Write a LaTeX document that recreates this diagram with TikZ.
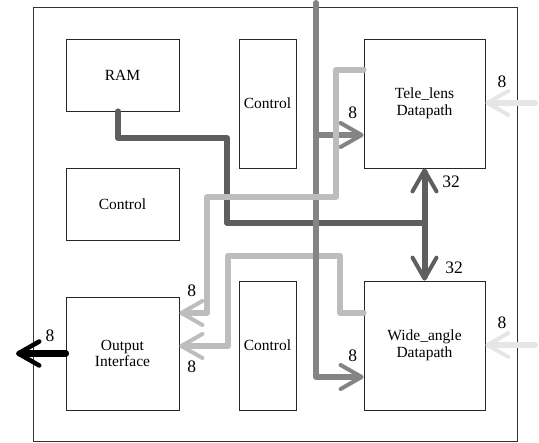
\documentclass[tikz,border=0pt]{standalone}
\usepackage{fontspec}
\setmainfont{Liberation Serif}
\newfontfamily\serf{Liberation Serif}
\usetikzlibrary{arrows.meta}
\definecolor{wdark}{HTML}{5E5E5E}
\definecolor{wmid}{HTML}{848484}
\definecolor{wlight}{HTML}{BDBDBD}
\definecolor{wpale}{HTML}{E6E6E6}
\begin{document}
\begin{tikzpicture}[x=1pt,y=-1pt,
  blk/.style={draw=black!85, line width=0.8pt, inner sep=0pt, align=center,
    font=\serf\fontsize{15.5}{16.5}\selectfont},
  num/.style={inner sep=0pt, font=\serf\fontsize{17.5}{18}\selectfont},
  wire/.style={line width=6pt, line cap=round, line join=round},
  tip/.style={-{Straight Barb[length=21pt,width=24pt,line width=4pt,round]}},
  ktip/.style={-{Straight Barb[length=21pt,width=24pt,line width=4.5pt,round]}}]
\useasboundingbox (0,0) rectangle (539,443);
% outer chip
\node[draw=black!80, line width=0.8pt, minimum width=484pt, minimum height=434.5pt, inner sep=0pt] (chip) at (275,224.25) {};
% blocks
\node[blk, minimum width=113pt, minimum height=72pt] (ram) at (122.5,75) {RAM};
\node[blk, minimum width=113pt, minimum height=72pt] (ctlL) at (122.5,204.5) {Control};
\node[blk, minimum width=57pt, minimum height=129pt] (ctlT) at (267.5,103.5) {Control};
\node[blk, minimum width=121pt, minimum height=129pt] (tele) at (424.5,103.5) {Tele\_lens\\Datapath};
\node[blk, minimum width=113pt, minimum height=113pt] (out) at (122.5,353.5) {Output\\Interface};
\node[blk, minimum width=57pt, minimum height=129pt] (ctlB) at (267.5,345.5) {Control};
\node[blk, minimum width=121pt, minimum height=129pt] (wide) at (424.5,345.5) {Wide\_angle\\Datapath};
% coordinates
\coordinate (d1) at (118,138);
\coordinate (d2) at (227,138);
\coordinate (d3) at (227,223);
\coordinate (dj) at (424.5,223);
\coordinate (mtop) at (316,3);
\coordinate (mb) at (316,377);
\coordinate (mt) at (316,135);
\coordinate (a1) at (336,70);
\coordinate (a2) at (336,197);
\coordinate (a3) at (207,197);
\coordinate (a4) at (207,313);
\coordinate (b1) at (340,313);
\coordinate (b2) at (340,256);
\coordinate (b3) at (228,256);
\coordinate (b4) at (228,346);
\coordinate (p1) at (535,103);
\coordinate (p2) at (535,345);
\coordinate (k1) at (16,353.5);
% dark bus
\draw[wire, wdark] (ram.south -| d1) -- (d1) -- (d2) -- (d3) -- (dj);
\draw[wire, wdark, tip] (dj) -- (tele.south);
\draw[wire, wdark, tip] (dj) -- (wide.north);
% light bus 2
\draw[wire, wlight, tip] (wide.west |- b1) -- (b1) -- (b2) -- (b3) -- (b4) -- (out.east |- b4);
% medium bus
\draw[wire, wmid, tip] (mtop) -- (mb) -- (wide.west |- mb);
\draw[wire, wmid, tip] (mt) -- (tele.west |- mt);
% light bus 1
\draw[wire, wlight, tip] (tele.west |- a1) -- (a1) -- (a2) -- (a3) -- (a4) -- (out.east |- a4);
% pale inputs
\draw[wire, wpale, tip] (p1) -- (tele.east |- p1);
\draw[wire, wpale, tip] (p2) -- (wide.east |- p2);
% black output
\draw[line width=7pt, line cap=round, ktip] (out.west) -- (k1);
% labels
\node[num] (n1) at (352.7,113) {8};
\node[num] (n2) at (502,82) {8};
\node[num] (n3) at (451,182) {32};
\node[num] (n4) at (454,268) {32};
\node[num] (n5) at (502,323) {8};
\node[num] (n6) at (352.7,356) {8};
\node[num] (n7) at (191.7,291) {8};
\node[num] (n8) at (191.7,367) {8};
\node[num] (n9) at (50,336) {8};
\end{tikzpicture}
\end{document}
